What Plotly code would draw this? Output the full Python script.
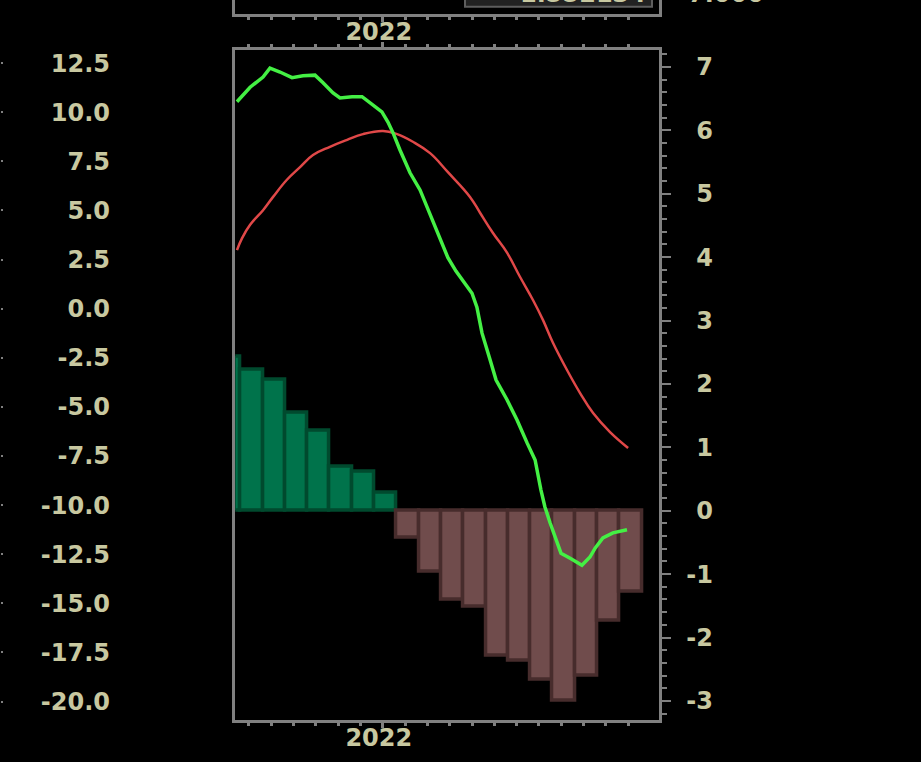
import plotly.graph_objects as go

W, H = 921, 762

# ---------------- data ----------------
week_index = list(range(-1, 18))
hist_values = [2.43, 2.22, 2.06, 1.54, 1.26, 0.69, 0.61, 0.29,
               -0.43, -0.96, -1.41, -1.52, -2.29, -2.37, -2.66, -3.00,
               -2.61, -1.73, -1.28]

fast_x = [-0.54, 0.05, 0.63, 0.94, 1.39, 1.93, 2.42, 2.96, 3.32, 3.77, 4.08,
          4.62, 5.07, 5.43, 5.96, 6.23, 6.46, 6.77, 7.22, 7.67, 8.12, 8.57,
          8.92, 9.28, 9.69, 10.00, 10.22, 10.45, 10.81, 11.08, 11.57, 12.02,
          12.47, 12.83, 13.09, 13.27, 13.50, 13.81, 13.99, 14.40, 14.93,
          15.29, 15.52, 15.87, 16.32, 16.95]
fast_y = [6.45, 6.68, 6.84, 6.98, 6.92, 6.83, 6.86, 6.87, 6.75, 6.59, 6.51,
          6.53, 6.53, 6.43, 6.29, 6.13, 5.96, 5.69, 5.33, 5.06, 4.68, 4.32,
          3.99, 3.78, 3.59, 3.43, 3.21, 2.80, 2.38, 2.06, 1.75, 1.43,
          1.07, 0.80, 0.33, 0.06, -0.19, -0.51, -0.67, -0.75, -0.86,
          -0.73, -0.59, -0.43, -0.35, -0.30]

slow_x = [-0.54, -0.31, 0.05, 0.63, 1.08, 1.70, 2.29, 2.87, 3.63, 4.40, 5.11,
          6.01, 6.64, 7.35, 8.12, 8.92, 9.91, 10.36, 10.94, 11.57, 12.15,
          12.74, 13.18, 13.63, 14.26, 14.84, 15.43, 16.19, 17.00]
slow_y = [4.11, 4.30, 4.51, 4.74, 4.95, 5.22, 5.42, 5.61, 5.74, 5.85, 5.94,
          5.99, 5.94, 5.82, 5.64, 5.34, 4.95, 4.70, 4.38, 4.07, 3.69,
          3.32, 3.01, 2.65, 2.22, 1.86, 1.54, 1.24, 0.99]

right_ticks = [-3, -2, -1, 0, 1, 2, 3, 4, 5, 6, 7]
right_labels = ["-3", "-2", "-1", "0", "1", "2", "3", "4", "5", "6", "7"]

left_ticks = [12.5, 10.0, 7.5, 5.0, 2.5, 0.0, -2.5, -5.0, -7.5, -10.0,
              -12.5, -15.0, -17.5, -20.0]
left_labels = ["12.5", "10.0", "7.5", "5.0", "2.5", "0.0", "-2.5", "-5.0",
               "-7.5", "-10.0", "-12.5", "-15.0", "-17.5", "-20.0"]

week_ticks = list(range(0, 18))
year_tick = [6]
year_label = ["2022"]

top_box_text = "1.552134"
top_axis_text = "7.000"

# ---------------- styling ----------------
GRAY = "#808080"
TXT = "#c8c8a0"
FONT = dict(family="DejaVu Sans", size=24, color=TXT, weight="bold")

x_dom = [235.3 / W, 658.7 / W]
x_rng = [-0.614, 18.372]
y_dom = [1 - 720.2 / H, 1 - 49.8 / H]
r_rng = [-3.304, 7.27]
l_rng = [-20.95, 13.18]

fills = ["#00734b" if v >= 0 else "#704c4c" for v in hist_values]
edges = ["#004a2e" if v >= 0 else "#472c2c" for v in hist_values]

fig = go.Figure()
fig.add_trace(go.Bar(x=week_index, y=hist_values, width=1.0, offset=-0.38,
                     marker=dict(color=fills, line=dict(color=edges, width=3.5)),
                     xaxis="x", yaxis="y", hoverinfo="skip"))
fig.add_trace(go.Scatter(x=slow_x, y=slow_y, mode="lines",
                         line=dict(color="#e04848", width=2.5, shape="spline",
                                   smoothing=1.2),
                         xaxis="x", yaxis="y", hoverinfo="skip"))
fig.add_trace(go.Scatter(x=fast_x, y=fast_y, mode="lines",
                         line=dict(color="#44f044", width=3.5),
                         xaxis="x", yaxis="y", hoverinfo="skip"))

# empty carriers so that the label-only / decoration axes get drawn
for xa, ya in [("x2", "y"), ("x", "y2"), ("x", "y3"), ("x", "y4"), ("x3", "y5")]:
    fig.add_trace(go.Scatter(x=[None], y=[None], mode="markers",
                             xaxis=xa, yaxis=ya, hoverinfo="skip",
                             marker=dict(opacity=0)))

minor_x = dict(tickvals=[t for t in week_ticks if t not in year_tick],
               ticks="outside", ticklen=3, tickwidth=3, tickcolor=GRAY)

common_x = dict(domain=x_dom, range=x_rng, showgrid=False, zeroline=False,
                showline=True, linecolor=GRAY, linewidth=3,
                ticks="outside", tickvals=year_tick, ticktext=year_label,
                ticklen=5, tickwidth=3, tickcolor=GRAY, tickfont=FONT,
                minor=minor_x, fixedrange=True)

fig.update_layout(
    width=W, height=H, autosize=False,
    margin=dict(l=0, r=0, t=0, b=0, pad=0),
    paper_bgcolor="black", plot_bgcolor="black",
    showlegend=False, bargap=0,
    xaxis=dict(**common_x, anchor="y", side="bottom", showticklabels=True,
               ticklabelstandoff=-11, ticklabelshift=-4),
    xaxis2=dict(**common_x, anchor="y", side="top", overlaying="x",
                showticklabels=True, ticklabelstandoff=-8, ticklabelshift=-4),
    xaxis3=dict(**common_x, anchor="y5", side="bottom", showticklabels=False),
    yaxis=dict(domain=y_dom, range=r_rng, anchor="x", side="right",
               showline=True, mirror=True, linecolor=GRAY, linewidth=3,
               showgrid=False, zeroline=False, showticklabels=False,
               ticks="outside", tickvals=right_ticks, ticklen=9, tickwidth=2,
               tickcolor=GRAY,
               minor=dict(dtick=0.2, tick0=0, ticks="outside", ticklen=5,
                          tickwidth=2, tickcolor=GRAY),
               fixedrange=True),
    yaxis3=dict(overlaying="y", range=r_rng, anchor="free", side="left",
                position=713 / W, showline=False, showgrid=False,
                zeroline=False, ticks="", tickvals=right_ticks,
                ticktext=right_labels, tickfont=FONT, fixedrange=True),
    yaxis2=dict(overlaying="y", range=l_rng, anchor="free", side="left",
                position=110 / W, showline=False, showgrid=False,
                zeroline=False, ticks="", tickvals=left_ticks,
                ticktext=left_labels, tickfont=FONT, fixedrange=True),
    yaxis4=dict(overlaying="y", range=l_rng, anchor="free", side="right",
                position=0, showline=False, showgrid=False, zeroline=False,
                ticks="outside", ticklen=2, tickwidth=2, tickcolor=GRAY,
                tickvals=left_ticks, showticklabels=False, fixedrange=True),
    yaxis5=dict(domain=[1 - 13.7 / H, 1], range=[0, 1], anchor="x3",
                showline=True, mirror=True, linecolor=GRAY, linewidth=3,
                showgrid=False, zeroline=False, showticklabels=False,
                ticks="", fixedrange=True),
)

fig.add_shape(type="rect", xref="paper", yref="paper",
              x0=465 / W, x1=652 / W, y0=1 - 6.7 / H, y1=1.02,
              fillcolor="#222222", line=dict(color="#5e5e5e", width=2),
              layer="above")
fig.add_annotation(xref="paper", yref="paper", x=648 / W, y=1 - 10 / H,
                   xanchor="right", yanchor="bottom", showarrow=False,
                   text=top_box_text, font=FONT)
fig.add_annotation(xref="paper", yref="paper", x=686 / W, y=1 - 10 / H,
                   xanchor="left", yanchor="bottom", showarrow=False,
                   text=top_axis_text, font=FONT)

fig.write_html("out.html", config=dict(displayModeBar=False),
               post_script="document.body.style.margin='0';"
                           "document.body.style.overflow='hidden';")
